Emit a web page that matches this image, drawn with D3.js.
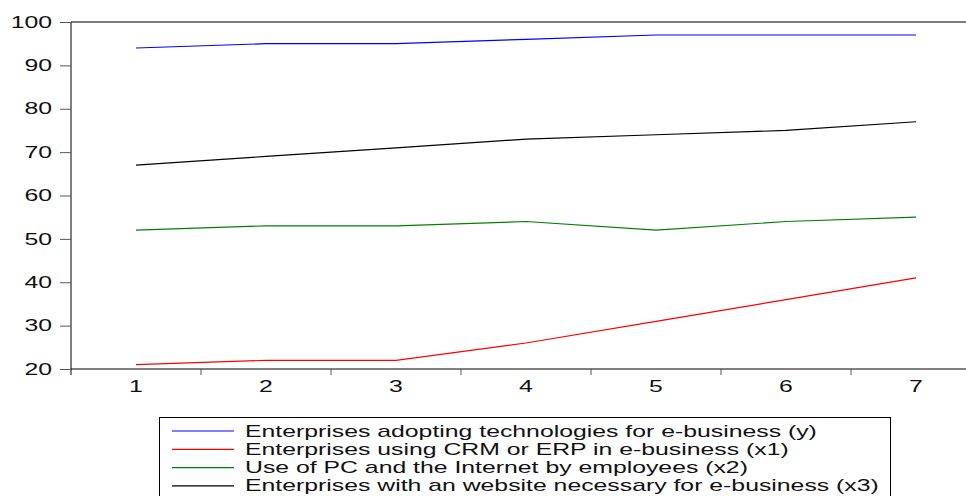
<!DOCTYPE html>
<html>
<head>
<meta charset="utf-8">
<script src="https://cdn.jsdelivr.net/npm/d3@7"></script>
<style>
  body { margin: 0; background: white; }
  svg { display: block; font-family: "Liberation Sans", Arial, sans-serif; }
</style>
</head>
<body>
<div id="chart"></div>
<script>
  // data
  const periods = ['1', '2', '3', '4', '5', '6', '7'];
  const yTicks = [20, 30, 40, 50, 60, 70, 80, 90, 100];
  const seriesNames = [
    'Enterprises adopting technologies for e-business (y)',
    'Enterprises using CRM or ERP in e-business (x1)',
    'Use of PC and the Internet by employees (x2)',
    'Enterprises with an website necessary for e-business (x3)'
  ];
  const yVals  = [94, 95, 95, 96, 97, 97, 97];
  const x1Vals = [21, 22, 22, 26, 31, 36, 41];
  const x2Vals = [52, 53, 53, 54, 52, 54, 55];
  const x3Vals = [67, 69, 71, 73, 74, 75, 77];
  const colors = ['#0000ff', '#ff0000', '#008000', '#000000'];

  const w = 966;
  const h = 496;
  const plotLeft = 71, plotTop = 22, plotRight = 981, plotBottom = 369;
  const stretch = 1.55; // the original text is drawn wide
  const fontSize = 16;

  let svg = d3.select('#chart').append('svg')
      .attr('width', w)
      .attr('height', h);

  const x = d3.scaleBand().domain(periods).range([plotLeft, plotRight]);
  const y = d3.scaleLinear().domain([20, 100]).range([plotBottom, plotTop]);

  // frame
  svg.append('line').attr('x1', plotLeft).attr('x2', plotRight).attr('y1', plotTop).attr('y2', plotTop)
    .attr('stroke', '#000').attr('stroke-width', 1);

  // y axis
  let yAxis = svg.append('g')
      .attr('transform', 'translate(' + plotLeft + ',0)')
      .call(d3.axisLeft(y).tickValues(yTicks).tickSize(11).tickPadding(8));
  yAxis.select('.domain').attr('stroke', '#000').attr('d', 'M0,' + plotTop + 'V' + (plotBottom + 6));
  yAxis.selectAll('.tick line').attr('stroke', '#555');
  yAxis.selectAll('text')
    .attr('font-size', fontSize).attr('fill', '#111')
    .attr('font-family', '"Liberation Sans", Arial, sans-serif')
    .attr('x', -19 / stretch)
    .attr('transform', 'scale(' + stretch + ',1)');

  // x axis, ticks sit between the periods
  let xAxis = svg.append('g')
      .attr('transform', 'translate(0,' + plotBottom + ')')
      .call(d3.axisBottom(x).tickSize(0).tickPadding(12));
  xAxis.select('.domain').attr('stroke', '#000').attr('d', 'M' + plotLeft + ',0H' + plotRight);
  xAxis.selectAll('text')
    .attr('font-size', fontSize).attr('fill', '#111')
    .attr('font-family', '"Liberation Sans", Arial, sans-serif')
    .attr('transform', 'scale(' + stretch + ',1)');
  svg.selectAll('.sep')
    .data(periods.slice(1))
    .enter()
    .append('line')
      .attr('x1', d => x(d)).attr('x2', d => x(d))
      .attr('y1', plotBottom).attr('y2', plotBottom + 6)
      .attr('stroke', '#555');

  // lines
  const allSeries = [yVals, x1Vals, x2Vals, x3Vals];
  const line = d3.line()
      .x((d, i) => x(periods[i]) + x.bandwidth() / 2)
      .y(d => y(d));

  svg.selectAll('.series')
    .data(allSeries)
    .enter()
    .append('path')
      .attr('d', line)
      .attr('fill', 'none')
      .attr('stroke', (d, i) => colors[i])
      .attr('stroke-width', 1.2);

  // legend
  let legend = svg.append('g');
  legend.append('rect')
    .attr('x', 159.5).attr('y', 417.5)
    .attr('width', 731).attr('height', 100)
    .attr('fill', 'white').attr('stroke', '#000');

  let rows = legend.selectAll('.row')
    .data(seriesNames)
    .enter()
    .append('g')
      .attr('transform', (d, i) => 'translate(0,' + (431 + i * 18.3) + ')');
  rows.append('line')
    .attr('x1', 172).attr('x2', 234).attr('y1', 0).attr('y2', 0)
    .attr('stroke', (d, i) => colors[i]).attr('stroke-width', 1.2);
  rows.append('text')
    .attr('transform', 'translate(245,5.5) scale(' + stretch + ',1)')
    .attr('font-size', fontSize)
    .attr('fill', '#111')
    .text(d => d);
</script>
</body>
</html>
